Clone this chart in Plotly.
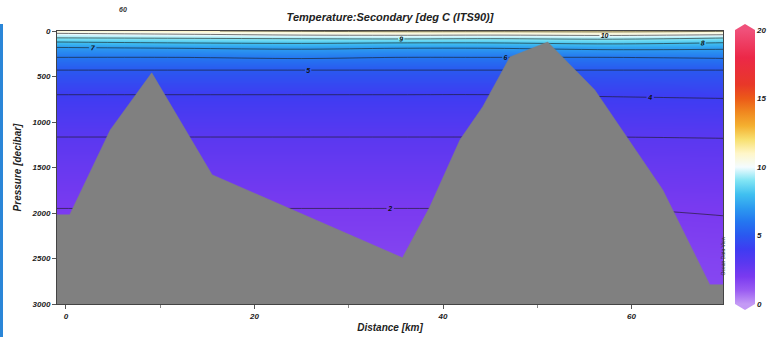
import plotly.graph_objects as go

# Section stations (km along track) and pressure levels (decibar)
distance_km = [-2, 12, 25, 35, 45, 58, 71]
pressure_dbar = [0, 10, 45, 75, 120, 180, 290, 430, 700, 1165, 1950, 2500, 3000]

# Temperature (deg C) at each pressure level (rows) for each station (columns)
temp_0 = [10.6, 10.9, 11.2, 11.3, 11.3, 11.4, 11.2]
temp_10 = [10.3, 10.5, 10.7, 10.9, 10.9, 11.0, 10.6]
temp_45 = [9.6, 9.8, 10.0, 10.05, 10.0, 10.1, 9.9]
temp_75 = [9.0, 9.1, 9.2, 9.3, 9.2, 9.3, 9.0]
temp_120 = [8.0, 8.2, 8.3, 8.2, 8.2, 8.4, 8.1]
temp_180 = [7.0, 7.1, 7.2, 7.1, 7.1, 7.3, 7.2]
temp_290 = [6.0, 6.0, 6.1, 6.0, 6.0, 6.0, 6.1]
temp_430 = [5.0, 5.0, 5.0, 5.0, 5.0, 5.0, 5.0]
temp_700 = [4.0, 4.0, 4.0, 4.0, 4.0, 4.05, 4.1]
temp_1165 = [3.0, 3.0, 3.0, 3.0, 3.0, 3.0, 3.02]
temp_1950 = [2.0, 2.0, 2.0, 2.0, 2.0, 2.0, 2.05]
temp_2500 = [1.7, 1.7, 1.7, 1.7, 1.7, 1.7, 1.75]
temp_3000 = [1.5, 1.5, 1.5, 1.5, 1.5, 1.5, 1.55]

# Seafloor profile along the section
bottom_km = [-0.95, 0.4, 4.7, 9.1, 15.5, 35.7, 38.6, 41.8, 44.2, 47.1, 51.1, 56.1, 63.3, 68.3, 69.7]
bottom_dbar = [2020, 2020, 1087, 460, 1580, 2492, 1932, 1196, 834, 285, 121, 648, 1745, 2788, 2788]

x_ticks = [0, 20, 40, 60]
y_ticks = [0, 500, 1000, 1500, 2000, 2500, 3000]
cbar_ticks = [0, 5, 10, 15, 20]

X_RANGE = [-0.95, 69.7]
Y_MAX = 3000

temperature = [temp_0, temp_10, temp_45, temp_75, temp_120, temp_180, temp_290,
               temp_430, temp_700, temp_1165, temp_1950, temp_2500, temp_3000]

odv_scale = [
    [0.00, "#c49af5"], [0.05, "#9a5cf2"], [0.10, "#7a3af0"], [0.15, "#5a38f0"],
    [0.20, "#3e3cf2"], [0.25, "#2a58f0"], [0.30, "#2476f0"], [0.35, "#2c9af0"],
    [0.40, "#40c0f0"], [0.45, "#80e4f4"], [0.50, "#f4fcff"], [0.55, "#fff6c8"],
    [0.60, "#f8e070"], [0.65, "#f4b030"], [0.70, "#f08820"], [0.75, "#ec5a18"],
    [0.80, "#e83828"], [0.90, "#ec2848"], [1.00, "#f0507a"],
]

FONT = "Liberation Sans"
W, H = 767, 337
ML, MR, MT, MB = 57, 44, 31, 33
PW, PH = W - ML - MR, H - MT - MB


def px(xp):
    return (xp - ML) / PW


def py(yp):
    return (H - MB - yp) / PH


fig = go.Figure()

fig.add_trace(go.Contour(
    x=distance_km, y=pressure_dbar, z=temperature,
    zmin=0, zmax=20, colorscale=odv_scale, showscale=False,
    contours=dict(start=2, end=11, size=1, coloring="heatmap", showlabels=True,
                  labelfont=dict(family=FONT, size=7, color="#111",
                                 weight="bold", style="italic")),
    line=dict(color="#1a1a1a", width=0.6),
    hoverinfo="skip",
))

# Seafloor, closed along the bottom of the section
fig.add_trace(go.Scatter(
    x=bottom_km + [X_RANGE[1], X_RANGE[0]],
    y=bottom_dbar + [Y_MAX, Y_MAX],
    fill="toself", fillcolor="#808080", mode="lines",
    line=dict(color="#808080", width=0.5), hoverinfo="skip", showlegend=False,
))

# Continuous colour bar for the temperature scale
fig.add_trace(go.Scatter(
    x=[None], y=[None], mode="markers", hoverinfo="skip", showlegend=False,
    marker=dict(color=[0], cmin=0, cmax=20, colorscale=odv_scale, showscale=True,
                colorbar=dict(x=px(735), xanchor="left", thickness=20,
                              y=0, yanchor="bottom", len=274, lenmode="pixels",
                              xpad=0, ypad=0, outlinewidth=0, ticks="",
                              tickvals=cbar_ticks,
                              tickfont=dict(family=FONT, size=8, color="#222",
                                            weight="bold", style="italic"))),
))

tick_font = dict(family=FONT, size=8, color="#222", weight="bold", style="italic")

fig.update_layout(
    width=W, height=H,
    margin=dict(l=ML, r=MR, t=MT, b=MB, autoexpand=False),
    paper_bgcolor="white", plot_bgcolor="white",
    showlegend=False,
    title=dict(text="Temperature:Secondary [deg C (ITS90)]",
               x=0.5 * (px(57) + px(723)), xref="paper", xanchor="center",
               y=1 - 17 / H, yanchor="middle",
               font=dict(family=FONT, size=11, color="#222",
                         weight="bold", style="italic")),
    xaxis=dict(range=X_RANGE, tickvals=x_ticks, ticks="outside", ticklen=4,
               tickcolor="#555", showgrid=False, zeroline=False,
               showline=True, mirror=True, linecolor="#444", linewidth=1,
               minor=dict(tickvals=[10, 30, 50], ticks="outside", ticklen=3,
                          tickcolor="#888"),
               tickfont=tick_font,
               title=dict(text="Distance [km]", standoff=4,
                          font=dict(family=FONT, size=10, color="#222",
                                    weight="bold", style="italic"))),
    yaxis=dict(range=[Y_MAX, 0], tickvals=y_ticks, ticks="outside", ticklen=4,
               tickcolor="#555", showgrid=False, zeroline=False,
               showline=True, mirror=True, linecolor="#444", linewidth=1,
               tickfont=tick_font,
               title=dict(text="Pressure [decibar]", standoff=8,
                          font=dict(family=FONT, size=10, color="#222",
                                    weight="bold", style="italic"))),
    shapes=[
        # arrow caps on the colour bar
        dict(type="path", xref="paper", yref="paper",
             path=f"M {px(735)} {py(30)} L {px(745)} {py(24)} L {px(755)} {py(30)} Z",
             fillcolor="#f0507a", line=dict(width=0)),
        dict(type="path", xref="paper", yref="paper",
             path=f"M {px(735)} {py(304)} L {px(745)} {py(310)} L {px(755)} {py(304)} Z",
             fillcolor="#c49af5", line=dict(width=0)),
        # blue frame strip at the left edge
        dict(type="rect", xref="paper", yref="paper",
             x0=px(0), x1=px(3), y0=py(337), y1=py(24),
             fillcolor="#2a86d8", line=dict(width=0)),
    ],
    annotations=[
        dict(text="Ocean Data View", xref="paper", yref="paper",
             x=px(727), y=py(278), textangle=-90, showarrow=False,
             font=dict(family=FONT, size=5, color="#333")),
        dict(text="60", xref="paper", yref="paper",
             x=px(117), y=py(4), showarrow=False,
             font=dict(family=FONT, size=7, color="#333",
                       weight="bold", style="italic")),
    ],
)

fig.write_html("out.html")
